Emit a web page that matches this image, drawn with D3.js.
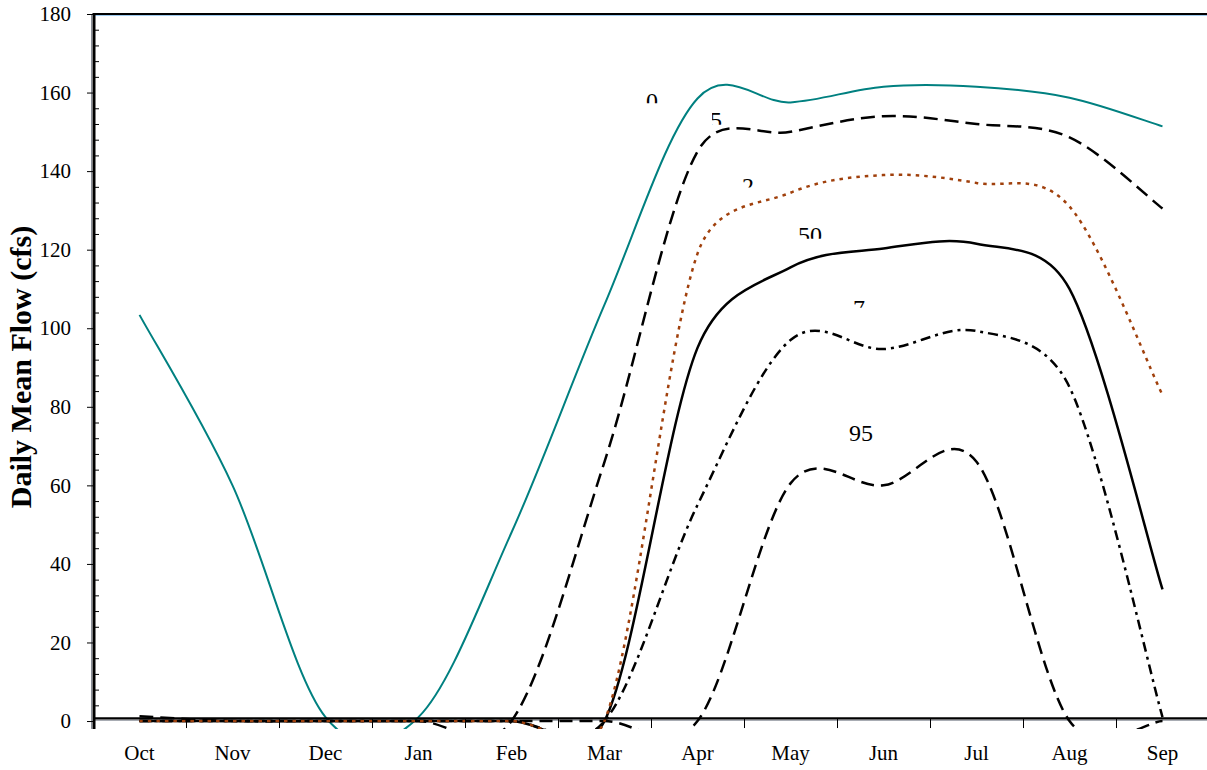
<!DOCTYPE html>
<html>
<head>
<meta charset="utf-8">
<script src="https://cdn.jsdelivr.net/npm/d3@7"></script>
<style>
  body { margin: 0; background: #fff; }
  text { font-family: "Liberation Serif", "Times New Roman", serif; }
</style>
</head>
<body>
<div id="chart"></div>
<script>

var width = 1207,
    height = 770;

// months of the water year, values are monthly points (cfs)
var months = ["Oct","Nov","Dec","Jan","Feb","Mar","Apr","May","Jun","Jul","Aug","Sep"];

var flow0  = [103.4, 60, 1, 1, 48, 106, 158.5, 157.5, 161.5, 161.5, 158.7, 151.4];
var flow5  = [1.2, 0, 0, 0, 0, 66, 145, 150, 154, 152, 148.6, 130.5];
var flow2  = [0, 0, 0, 0, 0, 0, 119, 134.5, 139, 137, 131, 83];
var flow50 = [0, 0, 0, 0, 0, 0, 95, 115.5, 120.3, 121.5, 110, 33.5];
var flow7  = [0, 0, 0, 0, 0, 0, 55, 97, 94.7, 99.3, 85, 1];
var flow95 = [0, 0, 0, 0, 0, 0, 0, 60.5, 60, 66, 0, 0];

var yTicks = [0, 20, 40, 60, 80, 100, 120, 140, 160, 180];

// curve labels, partly hidden in the original: [text, month position, baseline value, cut value, cut left]
var curveLabels = [
  ["0",  6.011, 155.8, 157.3, null],
  ["5",  6.70,  150.9, 151.8, 6.656],
  ["2",  7.043, 134.1, 135.8, null],
  ["50", 7.71,  121.6, 122.8, null],
  ["7",  8.237, 103.0, 105.2, null],
  ["95", 8.258, 71.4,  null,  null]
];

var svg = d3.select("#chart").append("svg")
    .attr("width", width)
    .attr("height", height);

var x = d3.scaleBand().domain(months).range([93, 1209]);
var xm = d3.scaleLinear().domain([0, 12]).range([93, 1209]);
var y = d3.scaleLinear().domain([-2, 180]).range([728.9, 14]);

svg.append("clipPath").attr("id", "plot")
  .append("rect")
    .attr("x", xm(0)).attr("y", y(180))
    .attr("width", xm(12) - xm(0)).attr("height", y(-2) - y(180));

// spreadsheet style smoothed line: bezier arms of 1/6 the chord, capped at half the segment
function smoothPath(values) {
  var pts = values.map(function(v, i) {
    return [x(months[i]) + x.bandwidth() / 2, y(v)];
  });
  var dist = function(a, b) { return Math.hypot(b[0] - a[0], b[1] - a[1]); };
  var p = d3.path();
  p.moveTo(pts[0][0], pts[0][1]);
  for (var i = 0; i < pts.length - 1; i++) {
    var p0 = pts[Math.max(i - 1, 0)], p1 = pts[i], p2 = pts[i + 1],
        p3 = pts[Math.min(i + 2, pts.length - 1)];
    var d12 = dist(p1, p2), d02 = dist(p0, p2), d13 = dist(p1, p3);
    var f1 = d02 > 0 ? Math.min(d02 / 6, d12 / 2) / d02 : 0;
    var f2 = d13 > 0 ? Math.min(d13 / 6, d12 / 2) / d13 : 0;
    p.bezierCurveTo(
      p1[0] + (p2[0] - p0[0]) * f1, p1[1] + (p2[1] - p0[1]) * f1,
      p2[0] - (p3[0] - p1[0]) * f2, p2[1] - (p3[1] - p1[1]) * f2,
      p2[0], p2[1]);
  }
  return p.toString();
}

// grey shadow of the x axis, under the data
svg.append("line")
    .attr("x1", xm(0)).attr("x2", width)
    .attr("y1", y(0) - 0.8).attr("y2", y(0) - 0.8)
    .attr("stroke", "#8a8f99").attr("stroke-width", 1);

var series = [
  { values: flow0,  color: "#008080", w: 2,   dash: null },
  { values: flow5,  color: "#000",    w: 2.5, dash: "14,7" },
  { values: flow50, color: "#000",    w: 2.5, dash: null },
  { values: flow7,  color: "#000",    w: 2.5, dash: "10,5,3,5" },
  { values: flow95, color: "#000",    w: 2.5, dash: "13,7" },
  { values: flow2,  color: "#a0400c", w: 2.5, dash: "3.5,5" }
];

svg.append("g")
    .attr("clip-path", "url(#plot)")
  .selectAll("path")
  .data(series)
  .enter().append("path")
    .attr("fill", "none")
    .attr("stroke", function(d) { return d.color; })
    .attr("stroke-width", function(d) { return d.w; })
    .attr("stroke-dasharray", function(d) { return d.dash; })
    .attr("d", function(d) { return smoothPath(d.values); });

// labels on the curves
var lab = svg.append("g");
curveLabels.forEach(function(l, i) {
  var cx = xm(l[1]), by = y(l[2]);
  var g = lab.append("g");
  if (l[3] !== null) {
    var left = l[4] !== null ? xm(l[4]) : cx - 30;
    svg.append("clipPath").attr("id", "lab" + i)
      .append("rect")
        .attr("x", left).attr("y", by - 30)
        .attr("width", cx + 30 - left).attr("height", y(l[3]) - (by - 30));
    g.attr("clip-path", "url(#lab" + i + ")");
  }
  g.append("text")
      .attr("x", cx).attr("y", by)
      .attr("text-anchor", "middle")
      .attr("font-family", "Liberation Serif, serif")
      .attr("font-size", 24)
      .text(l[0]);
});

// top border
svg.append("line")
    .attr("x1", xm(0)).attr("x2", width)
    .attr("y1", y(180) + 1.5).attr("y2", y(180) + 1.5)
    .attr("stroke", "#9ecbf0").attr("stroke-width", 1);
svg.append("line")
    .attr("x1", xm(0)).attr("x2", width)
    .attr("y1", y(180)).attr("y2", y(180))
    .attr("stroke", "#000").attr("stroke-width", 2);

// x axis line
svg.append("line")
    .attr("x1", xm(0)).attr("x2", width)
    .attr("y1", y(0) - 2.7).attr("y2", y(0) - 2.7)
    .attr("stroke", "#000").attr("stroke-width", 2.2);

// x ticks at month boundaries
var xTickAxis = d3.axisBottom(xm)
    .tickValues(d3.range(0, 13))
    .tickSize(9)
    .tickFormat("");
svg.append("g")
    .attr("transform", "translate(0," + (y(0) - 2) + ")")
    .call(xTickAxis)
    .call(function(g) { g.select(".domain").remove(); })
    .selectAll("line").attr("stroke", "#000");

var xLabAxis = d3.axisBottom(x).tickSize(0).tickPadding(0);
svg.append("g")
    .attr("transform", "translate(0,745)")
    .call(xLabAxis)
    .call(function(g) { g.select(".domain").remove(); })
    .selectAll("text")
      .attr("font-family", "Liberation Serif, serif")
      .attr("font-size", 21)
      .attr("fill", "#000")
      .attr("dy", "0.7em");

// y axis
svg.append("line")
    .attr("x1", xm(0) - 1.5).attr("x2", xm(0) - 1.5)
    .attr("y1", y(180)).attr("y2", y(-2))
    .attr("stroke", "#8a8f99").attr("stroke-width", 1);

var yAxis = d3.axisLeft(y).tickValues(yTicks).tickSize(7).tickPadding(16);
svg.append("g")
    .attr("transform", "translate(" + (xm(0) + 1) + ",0)")
    .call(yAxis)
    .call(function(g) {
      g.select(".domain").remove();
      g.selectAll("text")
        .attr("font-family", "Liberation Serif, serif")
        .attr("font-size", 21)
        .attr("fill", "#000");
    });

var minor = d3.range(4, 180, 4).filter(function(v) { return v % 20 !== 0; });
svg.append("g")
    .attr("transform", "translate(" + (xm(0) + 1) + ",0)")
    .call(d3.axisRight(y).tickValues(minor).tickSize(5).tickFormat(""))
    .call(function(g) { g.select(".domain").remove(); });

svg.append("line")
    .attr("x1", xm(0) + 1).attr("x2", xm(0) + 1)
    .attr("y1", y(180) - 1).attr("y2", y(-2))
    .attr("stroke", "#000").attr("stroke-width", 3);

svg.append("text")
    .attr("transform", "translate(31,367) rotate(-90)")
    .attr("text-anchor", "middle")
    .attr("font-family", "Liberation Serif, serif")
    .attr("font-size", 30)
    .attr("font-weight", "bold")
    .text("Daily Mean Flow (cfs)");

</script>
</body>
</html>
